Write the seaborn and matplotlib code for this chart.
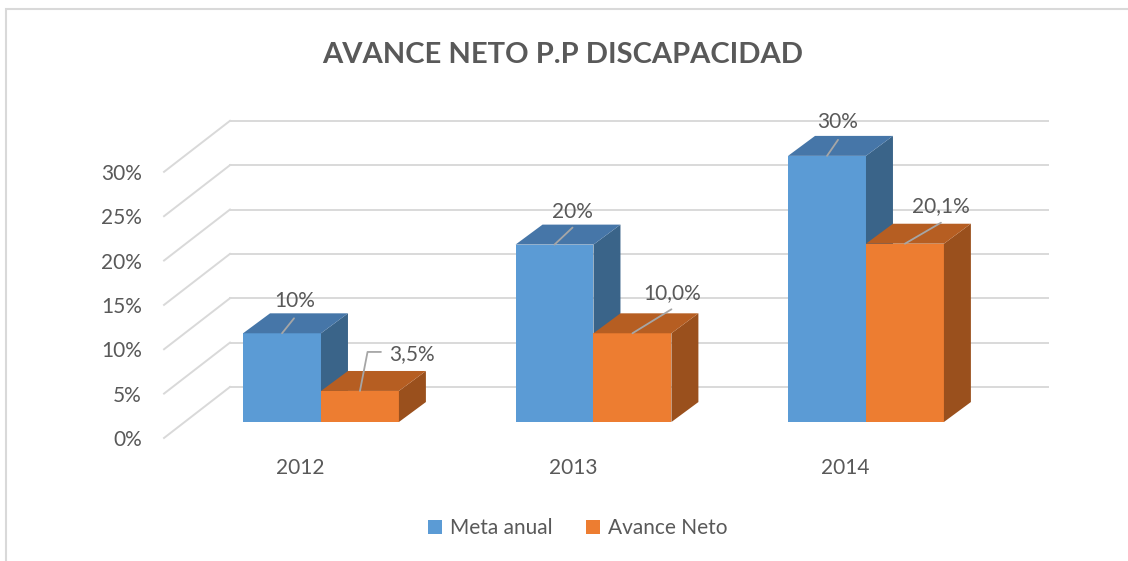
import numpy as np
import pandas as pd
import seaborn as sns
import matplotlib.pyplot as plt
from matplotlib.patches import Polygon, Rectangle

# data
years = ['2012', '2013', '2014']
meta_anual = [10, 20, 30]
avance_neto = [3.5, 10.0, 20.1]
series = ['Meta anual', 'Avance Neto']
y_ticks = [0, 5, 10, 15, 20, 25, 30]

df = pd.DataFrame({
    'year': years * 2,
    'serie': [series[0]] * len(years) + [series[1]] * len(years),
    'valor': meta_anual + avance_neto,
})

# colors: front / top / side faces
front = {'Meta anual': '#5B9BD5', 'Avance Neto': '#ED7D31'}
top = {'Meta anual': '#4676A8', 'Avance Neto': '#B65E22'}
side = {'Meta anual': '#3A6489', 'Avance Neto': '#9A501D'}
grid_col = '#D9D9D9'
text_col = '#595959'

# fake 3D offsets (data units)
bar_dx, bar_dy = 0.099, 2.25      # bar depth
back_dx, back_dy = 0.166, 3.95    # back wall relative to bar front
wall_dx, wall_dy = -0.076, -1.8   # front edge of wall relative to bar front
wall_x = -0.576
grid_right = 2.668

plt.rcParams['font.family'] = ['Lato', 'DejaVu Sans']

fig = plt.figure(figsize=(11.28, 5.61), dpi=100)
ax = fig.add_axes([150 / 1128, 111 / 561, 910 / 1128, 340 / 561])

sns.barplot(data=df, x='year', y='valor', hue='serie', hue_order=series,
            palette=front, saturation=1, width=0.572, errorbar=None,
            linewidth=0, ax=ax)

# back grid + left wall diagonals
for v in y_ticks:
    x_back = wall_x + (back_dx - wall_dx)
    ax.plot([x_back, grid_right], [v + back_dy] * 2, color=grid_col, lw=1.4, zorder=1)
    ax.plot([wall_x, x_back], [v + wall_dy, v + back_dy], color=grid_col, lw=1.4, zorder=1)

# label offsets in pixels (dx right, dy down) from bar top centre
lab_off = [[(13, -32), (18, -33), (11, -34)],
           [(52, -37), (40, -40), (36, -38)]]
lead_off = [[(12, -15), (18, -17), (11, -16)],
            [(21, -39), (39, -24), (36, -21)]]

for ci, cont in enumerate(ax.containers):
    serie = series[ci]
    for j, bar in enumerate(cont):
        x0, w, h = bar.get_x(), bar.get_width(), bar.get_height()
        x1 = x0 + w
        z = 3 + j + ci * 0.5
        bar.set_zorder(z)
        ax.add_patch(Polygon([(x1, 0), (x1, h), (x1 + bar_dx, h + bar_dy), (x1 + bar_dx, bar_dy)],
                             closed=True, facecolor=side[serie], lw=0, zorder=z + 0.1))
        ax.add_patch(Polygon([(x0, h), (x1, h), (x1 + bar_dx, h + bar_dy), (x0 + bar_dx, h + bar_dy)],
                             closed=True, facecolor=top[serie], lw=0, zorder=z + 0.2))

        if ci == 0:
            txt = f'{h:.0f}%'
        else:
            txt = f'{h:.1f}%'.replace('.', ',')
        lx, ly = lab_off[ci][j]
        ex, ey = lead_off[ci][j]
        conn = 'arc3'
        if ci == 1 and j == 0:
            conn = 'angle,angleA=0,angleB=79,rad=0'
        ax.annotate('', xy=(x0 + w / 2, h), xytext=(ex * 0.72, -ey * 0.72),
                    textcoords='offset points',
                    arrowprops=dict(arrowstyle='-', color='#A6A6A6', lw=1.3,
                                    shrinkA=0, shrinkB=0, connectionstyle=conn),
                    zorder=20)
        ax.annotate(txt, xy=(x0 + w / 2, h), xytext=(lx * 0.72, -ly * 0.72),
                    textcoords='offset points', ha='center', va='center',
                    fontsize=15, color=text_col, zorder=21)

ax.set_xlim(-0.6275, 2.712)
ax.set_ylim(-3.157, 35.17)
ax.set_yticks([v + wall_dy for v in y_ticks], [f'{v}%' for v in y_ticks])
ax.set_xticks(np.arange(len(years)) + wall_dx, years)
ax.tick_params(length=0, labelsize=15, labelcolor=text_col)
ax.tick_params(axis='y', pad=6)
ax.tick_params(axis='x', pad=6)
ax.set_xlabel('')
ax.set_ylabel('')
for s in ax.spines.values():
    s.set_visible(False)

sns.move_legend(ax, 'center', bbox_to_anchor=(578 / 1128, 1 - 528 / 561),
                bbox_transform=fig.transFigure, ncol=2, frameon=False, title=None,
                fontsize=15, handlelength=0.65, handleheight=0.65,
                handletextpad=0.4, columnspacing=1.6)
for t in ax.get_legend().get_texts():
    t.set_color(text_col)

fig.text(563 / 1128, 1 - 55 / 561, 'AVANCE NETO P.P DISCAPACIDAD', ha='center', va='center',
         fontsize=21, fontweight='bold', color=text_col)

fig.patches.append(Rectangle((5.5 / 1128, -0.1), 1.2, 1.1 - 9 / 561, transform=fig.transFigure,
                             fill=False, edgecolor=grid_col, lw=1.5))

fig.savefig('out.png', dpi=100)
